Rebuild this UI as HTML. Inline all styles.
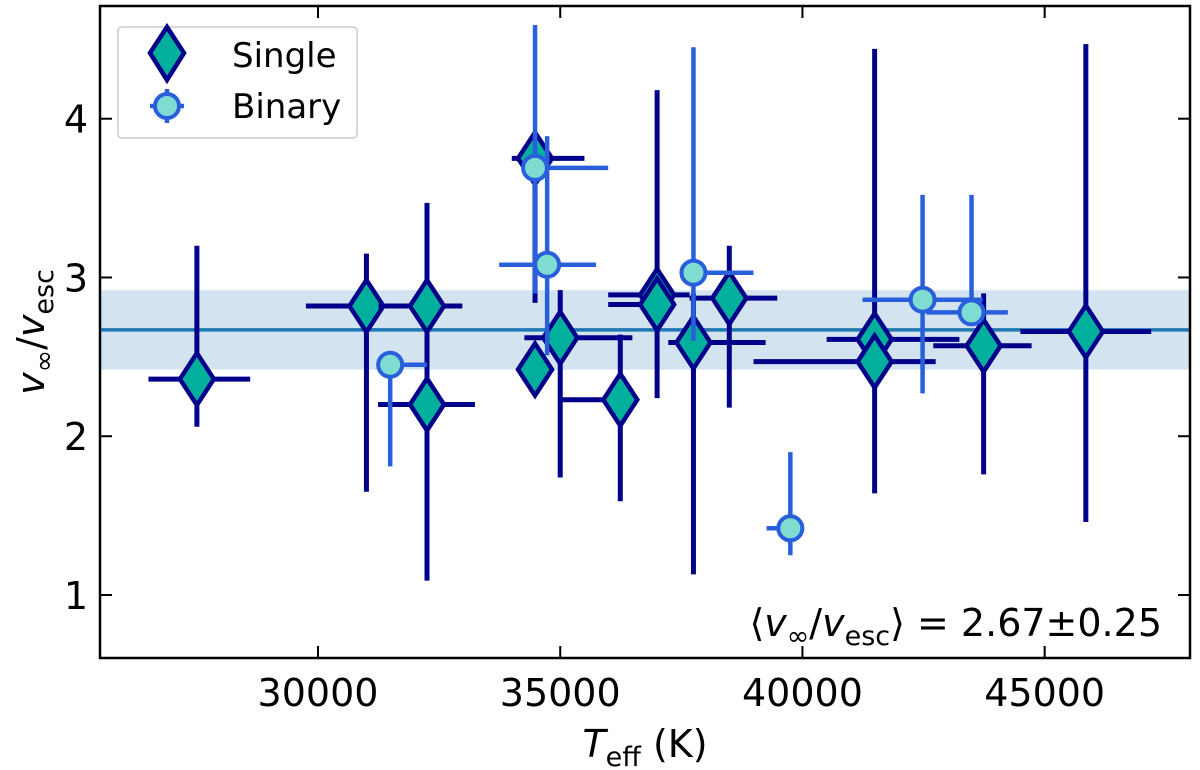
<!DOCTYPE html>
<html><head><meta charset="utf-8"><style>
body{margin:0;background:#fff;}
svg{display:block;font-family:"DejaVu Sans","Liberation Sans",sans-serif;}
</style></head><body>
<svg id="chart" width="1200" height="770"></svg>
<script>
const singleT=[27500,31000,32250,32250,34480,34480,35000,36240,37000,37000,37750,38490,41490,41490,43740,45850];
const singleV=[2.36,2.82,2.82,2.20,3.75,2.42,2.62,2.23,2.89,2.83,2.59,2.87,2.61,2.47,2.57,2.66];
const singleTlo=[26500,29750,31250,31240,34000,34400,34260,35000,35990,35990,37230,37670,40500,38990,42700,44500];
const singleThi=[28600,32200,32980,33240,35500,34560,36490,36240,37670,37360,39240,39480,43240,42750,44730,47200];
const singleVlo=[2.06,1.65,2.35,1.09,2.84,2.38,1.74,1.59,2.24,2.75,1.13,2.18,1.64,2.40,1.76,1.46];
const singleVhi=[3.20,3.15,3.47,2.60,3.90,2.46,2.92,2.64,4.18,2.90,2.90,3.20,4.44,2.55,2.90,4.47];
const binT=[31490,34480,34730,37750,39750,42480,43490];
const binV=[2.45,3.69,3.08,3.03,1.42,2.86,2.78];
const binTlo=[31400,34400,33740,37700,39260,41240,42560];
const binThi=[32250,35990,35740,38990,39800,43720,44240];
const binVlo=[1.81,2.90,2.51,2.60,1.25,2.27,2.70];
const binVhi=[2.50,4.59,3.89,4.45,1.90,3.52,3.52];
const xTicks=[30000,35000,40000,45000];
const yTicks=[1,2,3,4];
const meanV=2.67, meanErr=0.25;

const NS="http://www.w3.org/2000/svg";
const svg=document.getElementById('chart');
const L=100,R=1190,T=6,B=658;
const X0=25500,X1=48000,Y0=0.603,Y1=4.71;
const sx=t=>L+(t-X0)/(X1-X0)*(R-L);
const sy=v=>B-(v-Y0)/(Y1-Y0)*(B-T);
function mk(tag,attrs,parent){const e=document.createElementNS(NS,tag);for(const k in attrs)e.setAttribute(k,attrs[k]);(parent||svg).appendChild(e);return e;}

const band=mk('rect',{x:L,y:sy(meanV+meanErr),width:R-L,height:sy(meanV-meanErr)-sy(meanV+meanErr),fill:'#d3e4f0'});


const ml=mk('line',{x1:L,x2:R,y1:sy(meanV),y2:sy(meanV),stroke:'#1f77b4','stroke-width':3.5});



function diamond(cx,cy,g){return mk('polygon',{points:`${cx},${cy-26} ${cx+17},${cy} ${cx},${cy+26} ${cx-17},${cy}`,fill:'#00b09c',stroke:'#00008b','stroke-width':4.5,'stroke-linejoin':'miter'},g);}
const gs=mk('g',{});


singleT.forEach((t,i)=>{
  const g=mk('g',{},gs);
  
  
  mk('line',{x1:sx(singleTlo[i]),x2:sx(singleThi[i]),y1:sy(singleV[i]),y2:sy(singleV[i]),stroke:'#00008b','stroke-width':5},g);
  mk('line',{x1:sx(t),x2:sx(t),y1:sy(singleVlo[i]),y2:sy(singleVhi[i]),stroke:'#00008b','stroke-width':5},g);
  diamond(sx(t),sy(singleV[i]),g);
});
const gb=mk('g',{});


binT.forEach((t,i)=>{
  const g=mk('g',{},gb);
  
  
  mk('line',{x1:sx(binTlo[i]),x2:sx(binThi[i]),y1:sy(binV[i]),y2:sy(binV[i]),stroke:'#2a5fdc','stroke-width':4.5},g);
  mk('line',{x1:sx(t),x2:sx(t),y1:sy(binVlo[i]),y2:sy(binVhi[i]),stroke:'#2a5fdc','stroke-width':4.5},g);
  mk('circle',{cx:sx(t),cy:sy(binV[i]),r:12,fill:'#7fdcd0',stroke:'#2a5fdc','stroke-width':4},g);
});

const fr=mk('rect',{x:L,y:T,width:R-L,height:B-T,fill:'none',stroke:'#000','stroke-width':2.5});


xTicks.forEach(t=>{
  const x=sx(t);
  mk('line',{x1:x,x2:x,y1:B,y2:B-12,stroke:'#000','stroke-width':2});
  mk('line',{x1:x,x2:x,y1:T,y2:T+12,stroke:'#000','stroke-width':2});
  const tx=mk('text',{x:x,y:B+48,'text-anchor':'middle','font-size':38,fill:'#000'});
  tx.textContent=t;
  
  
});
yTicks.forEach(v=>{
  const y=sy(v);
  mk('line',{x1:L,x2:L+12,y1:y,y2:y,stroke:'#000','stroke-width':2});
  mk('line',{x1:R,x2:R-12,y1:y,y2:y,stroke:'#000','stroke-width':2});
  const tx=mk('text',{x:L-12,y:y+14,'text-anchor':'end','font-size':38,fill:'#000'});
  tx.textContent=v;
  
  
});
</script>
<svg width="1200" height="770" style="position:absolute;left:0;top:0">
  <g font-family="DejaVu Sans, Liberation Sans, sans-serif" fill="#000">
    <text x="645" y="757" font-size="38" text-anchor="middle"><tspan font-style="italic">T</tspan><tspan font-size="27" dy="9">eff</tspan><tspan dy="-9"> (K)</tspan></text>
    <text transform="translate(44,332) rotate(-90)" font-size="38" text-anchor="middle"><tspan font-style="italic">v</tspan><tspan font-size="27" dy="9">∞</tspan><tspan dy="-9">/</tspan><tspan font-style="italic">v</tspan><tspan font-size="27" dy="9">esc</tspan></text>
    <text x="1162" y="636" font-size="38" text-anchor="end">⟨<tspan font-style="italic">v</tspan><tspan font-size="27" dy="9">∞</tspan><tspan dy="-9">/</tspan><tspan font-style="italic">v</tspan><tspan font-size="27" dy="9">esc</tspan><tspan dy="-9">⟩ = 2.67±0.25</tspan></text>
  </g>
  <g>
    <rect x="118" y="27" width="239" height="111" rx="4" fill="#fff" fill-opacity="0.85" stroke="#ccc" stroke-width="1.5"/>
    <g>
      <polygon points="167,27 184,53 167,80 150,53" fill="#00b09c" stroke="#00008b" stroke-width="4.5"/>
      <text x="232" y="67" font-size="34" font-family="DejaVu Sans, Liberation Sans, sans-serif">Single</text>
    </g>
    <g>
      <line x1="150" x2="184" y1="106" y2="106" stroke="#2a5fdc" stroke-width="4.5"/>
      <line x1="167" x2="167" y1="89" y2="123" stroke="#2a5fdc" stroke-width="4.5"/>
      <circle cx="167" cy="106" r="12" fill="#7fdcd0" stroke="#2a5fdc" stroke-width="4"/>
      <text x="232" y="118" font-size="34" font-family="DejaVu Sans, Liberation Sans, sans-serif">Binary</text>
    </g>
  </g>
</svg>
</body></html>
